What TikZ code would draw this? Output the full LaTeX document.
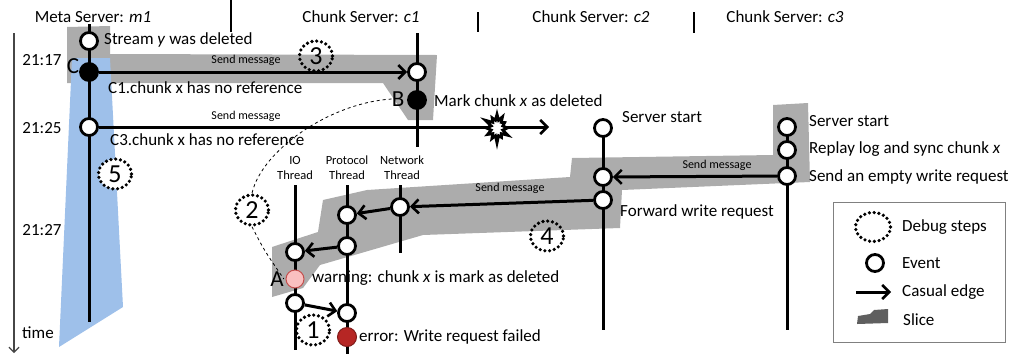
\documentclass[tikz,border=0pt]{standalone}
\usepackage{fontspec}
\setmainfont{Carlito}
\usetikzlibrary{arrows.meta,shapes.symbols,shapes.geometric}
\definecolor{slicegray}{RGB}{172,172,172}
\definecolor{sliceblue}{RGB}{158,192,234}
\definecolor{pinkfill}{RGB}{250,192,192}
\definecolor{pinkdraw}{RGB}{196,80,78}
\definecolor{errred}{RGB}{182,38,36}
\definecolor{axisgray}{RGB}{70,70,70}
\definecolor{legslice}{RGB}{95,95,95}
\begin{document}
\begin{tikzpicture}[x=1pt,y=-1pt,
  ev/.style={circle, draw, line width=2.8pt, fill=white, minimum size=17pt, inner sep=0pt},
  evblack/.style={ev, fill=black},
  tline/.style={line width=3pt},
  ce/.style={line width=3pt, -{Straight Barb[length=7pt,width=14pt,line width=2.6pt]}},
  lbl/.style={font=\fontsize{17}{20}\selectfont, inner sep=0pt, anchor=west},
  hdr/.style={font=\fontsize{17}{20}\selectfont, inner sep=0pt},
  small/.style={font=\fontsize{12}{14}\selectfont, inner sep=0pt},
  thr/.style={font=\fontsize{12.5}{15}\selectfont, inner sep=0pt, align=center},
  letter/.style={font=\fontsize{23}{24}\selectfont, inner sep=0pt},
  dbg/.style={ellipse, draw, dash pattern=on 0pt off 4.8pt, line cap=round, line width=3.6pt,
              minimum width=33pt, minimum height=30pt, inner sep=0pt, font=\fontsize{26}{26}\selectfont}
]
\path[use as bounding box] (0,0) rectangle (1016,354);

% header
\node[hdr] (h1) at (93,17) {Meta Server: \textit{m1}};
\node[hdr] (h2) at (361,17) {Chunk Server: \textit{c1}};
\node[hdr] (h3) at (591,17) {Chunk Server: \textit{c2}};
\node[hdr] (h4) at (785,17) {Chunk Server: \textit{c3}};
\draw[line width=2pt] (231,0) -- (231,32);
\draw[line width=2pt] (478,12) -- (478,32);
\draw[line width=2pt] (694,12) -- (694,33);

% time axis
\coordinate (tTop) at (14,33);
\coordinate (tBot) at (14,353);
\draw[line width=1.3pt, axisgray, -{Straight Barb[length=5pt,width=10pt,line width=1.2pt]}] (tTop) -- (tBot);
\node[hdr] (t1) at (42,60) {21:17};
\node[hdr] (t2) at (42,128) {21:25};
\node[hdr] (t3) at (42,230) {21:27};
\node[hdr] (t4) at (38,333) {time};

% slices
\fill[slicegray] (67,27) -- (110,26) -- (110,54) -- (437,55) -- (433,120) -- (408,120) -- (383,83) -- (67,83) -- cycle;
\fill[sliceblue] (72,58) -- (110,58) -- (123,307) -- (59,347) -- cycle;
\fill[slicegray] (272,247) -- (318,232) -- (323,200) -- (367,190) -- (570,177) -- (572,158) -- (773,155) -- (773,105) -- (808,103) -- (810,182) -- (622,190) -- (620,228) -- (423,235) -- (320,265) -- (303,288) -- (272,297) -- cycle;

% timelines
\coordinate (m1T) at (89,24);   \coordinate (m1B) at (89,322);
\coordinate (c1T) at (417,33);  \coordinate (c1B) at (417,147);
\coordinate (c2T) at (603,128); \coordinate (c2B) at (603,330);
\coordinate (c3T) at (787,127); \coordinate (c3B) at (787,330);
\coordinate (ioT) at (295,185); \coordinate (ioB) at (295,350);
\coordinate (prT) at (347,185); \coordinate (prB) at (347,354);
\coordinate (nwT) at (400,185); \coordinate (nwB) at (400,253);
\draw[tline] (m1T) -- (m1B);
\draw[tline] (c1T) -- (c1B);
\draw[tline] (c2T) -- (c2B);
\draw[tline] (c3T) -- (c3B);
\draw[tline] (ioT) -- (ioB);
\draw[tline] (prT) -- (prB);
\draw[tline] (nwT) -- (nwB);

% thread labels
\node[thr] (lio) at (295,168) {IO\\Thread};
\node[thr] (lpr) at (347,168) {Protocol\\Thread};
\node[thr] (lnw) at (402,168) {Network\\Thread};

% events
\node[ev] (ma) at (89,41) {};
\node[evblack] (mc) at (89,72) {};
\node[ev] (mb) at (89,127) {};
\node[ev] (c1a) at (417,72) {};
\node[evblack] (c1b) at (417,100) {};
\node[ev] (c2a) at (603,128) {};
\node[ev] (c2b) at (603,177) {};
\node[ev] (c2c) at (603,200) {};
\node[ev] (c3a) at (787,127) {};
\node[ev] (c3b) at (787,150) {};
\node[ev] (c3c) at (787,176) {};
\node[ev] (n1) at (400,207) {};
\node[ev] (p1) at (347,215) {};
\node[ev] (p2) at (347,246) {};
\node[ev] (i1) at (295,252) {};
\node[circle, draw=pinkdraw, line width=1pt, fill=pinkfill, minimum size=18pt, inner sep=0pt] (ia) at (295,279) {};
\node[ev] (i2) at (295,303) {};
\node[ev] (p3) at (347,313) {};
\node[circle, draw=errred!70!black, line width=1pt, fill=errred, minimum size=19pt, inner sep=0pt] (p4) at (347,337) {};

% causal edges
\coordinate (lostEnd) at (549,127);
\draw[ce] (mc) -- (c1a);
\draw[ce] (mb) -- (lostEnd);
\node[starburst, draw, fill=white, line width=2.8pt, minimum width=28pt, minimum height=32pt, starburst point height=8pt, starburst points=12, inner sep=0pt] (lost) at (497,128) {};
\draw[ce] (c3c) -- (c2b);
\draw[ce] (c2c) -- (n1);
\draw[ce] (n1) -- (p1);
\draw[ce] (p2) -- (i1);
\draw[ce] (i2) -- (p3);

% message labels
\node[small] (sm1) at (246,60) {Send message};
\node[small] (sm2) at (246,116) {Send message};
\node[small] (sm3) at (717,165) {Send message};
\node[small] (sm4) at (510,188) {Send message};

% event labels
\node[lbl] (lma) at (104,40) {Stream \textit{y} was deleted};
\node[lbl] (lmc) at (108,88) {C1.chunk x has no reference};
\node[lbl] (lmb) at (110,140) {C3.chunk x has no reference};
\node[letter] (labC) at (73,66) {C};
\node[letter] (labB) at (398,99) {B};
\node[letter] (labA) at (277,279) {A};
\node[lbl] (lc1b) at (434,101) {Mark chunk \textit{x} as deleted};
\node[lbl] (lc2a) at (622,117) {Server start};
\node[lbl] (lc2c) at (620,212) {Forward write request};
\node[lbl] (lc3a) at (809,121) {Server start};
\node[lbl] (lc3b) at (809,149) {Replay log and sync chunk \textit{x}};
\node[lbl] (lc3c) at (809,177) {Send an empty write request};
\node[lbl] (lia) at (312,278) {warning: chunk \textit{x} is mark as deleted};
\node[lbl] (lp4) at (359,337) {error: Write request failed};

% debug steps
\node[dbg] (s1) at (313,330) {1};
\node[dbg] (s2) at (252,210) {2};
\node[dbg] (s3) at (316,56) {3};
\node[dbg] (s4) at (547,236) {4};
\node[dbg, fill=white] (s5) at (115,174) {5};

% dashed relation
\draw[dashed, line width=0.8pt] (labB.west) .. controls (330,103) and (262,150) .. (s2.north);
\draw[dashed, line width=0.8pt] (s2.south) .. controls (264,250) .. (labA.east);

% legend
\node[draw=gray, line width=0.8pt, minimum width=172pt, minimum height=140pt, inner sep=0pt] (legend) at (919,272) {};
\node[dbg, minimum width=35pt, minimum height=29pt] (legdbg) at (873,227) {};
\node[lbl] (legt1) at (902,227) {Debug steps};
\node[ev] (legev) at (875,263) {};
\node[lbl] (legt2) at (902,263) {Event};
\coordinate (legA) at (856,292);
\coordinate (legB) at (891,292);
\draw[ce] (legA) -- (legB);
\node[lbl] (legt3) at (902,292) {Casual edge};
\fill[legslice] (857,324) -- (858,316) -- (870,314) -- (874,310) -- (888,309) -- (888,323) -- cycle;
\node[lbl] (legt4) at (903,320) {Slice};
\end{tikzpicture}
\end{document}
